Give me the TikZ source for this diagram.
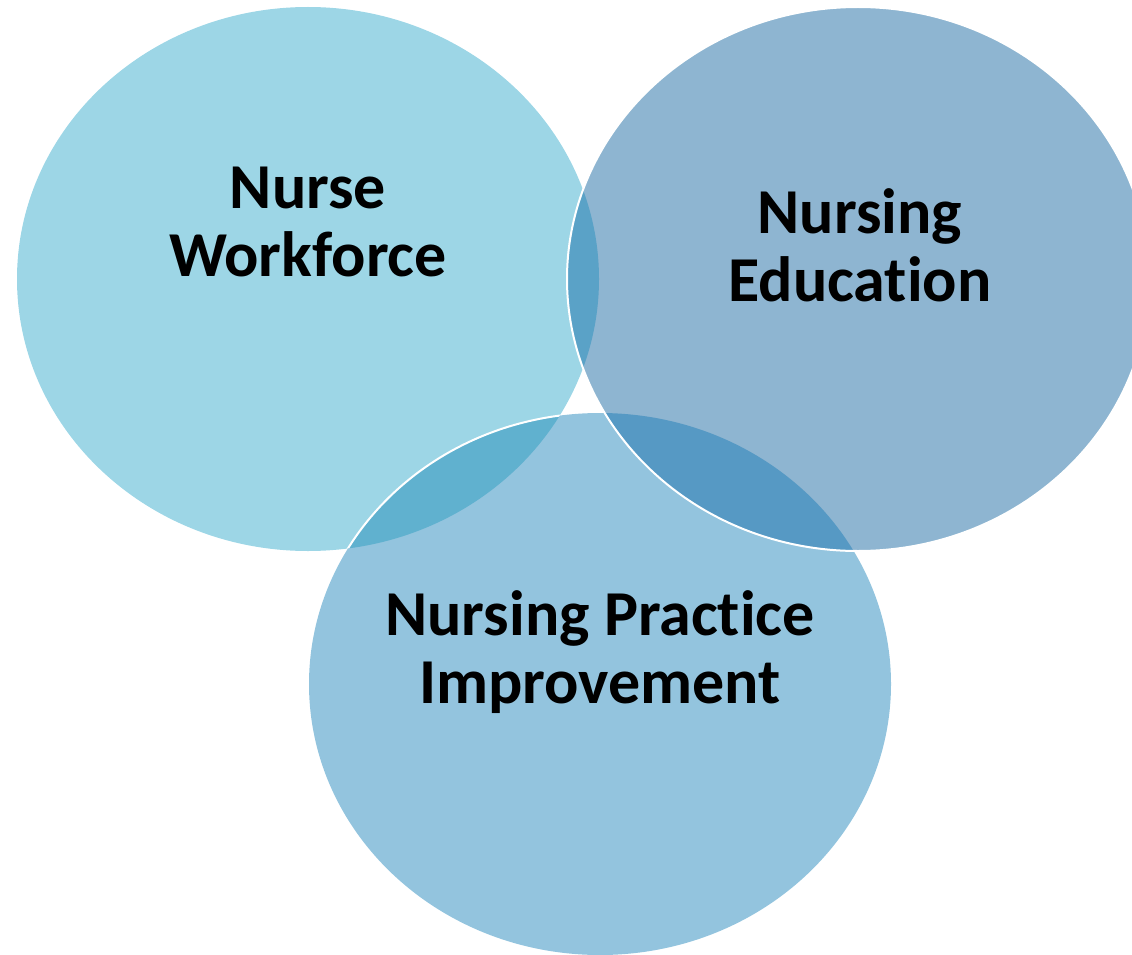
\documentclass[tikz,border=0pt]{standalone}
\usepackage{fontspec}
\setmainfont{Carlito}[Ligatures={NoCommon}]
\definecolor{cA}{HTML}{9DD6E6}
\definecolor{cB}{HTML}{8EB5D1}
\definecolor{cC}{HTML}{93C4DE}
\definecolor{oAB}{HTML}{5AA2C7}
\definecolor{oAC}{HTML}{60B1CF}
\definecolor{oBC}{HTML}{5699C4}
\begin{document}
\begin{tikzpicture}[x=1pt,y=-1pt,
  lbl/.style={font=\fontsize{64}{68}\selectfont\bfseries, align=center, text=black, inner sep=0pt},
  rim/.style={draw=white, line width=2pt}]
\useasboundingbox (0,0) rectangle (1132,955);
\clip (0,0) rectangle (1132,955);
\def\EA{(308,279) ellipse [x radius=291, y radius=272]}
\def\EB{(858,279) ellipse [x radius=291, y radius=272]}
\def\EC{(600,684) ellipse [x radius=291, y radius=271]}
\fill[cA] \EA;
\fill[cC] \EC;
\fill[cB] \EB;
\begin{scope}\clip \EA; \fill[oAC] \EC; \end{scope}
\begin{scope}\clip \EA; \fill[oAB] \EB; \end{scope}
\begin{scope}\clip \EB; \fill[oBC] \EC; \end{scope}
\begin{scope}\clip \EA; \draw[rim] \EC; \end{scope}
\draw[rim] \EB;
\node[lbl] (nw) at (308,222) {Nurse\\Workforce};
\node[lbl] (ne) at (860,245) {Nursing\\Educat\kern0pt ion};
\node[lbl] (np) at (600,652) {Nursing Pract\kern0pt ice\\Improvement};
\end{tikzpicture}
\end{document}
